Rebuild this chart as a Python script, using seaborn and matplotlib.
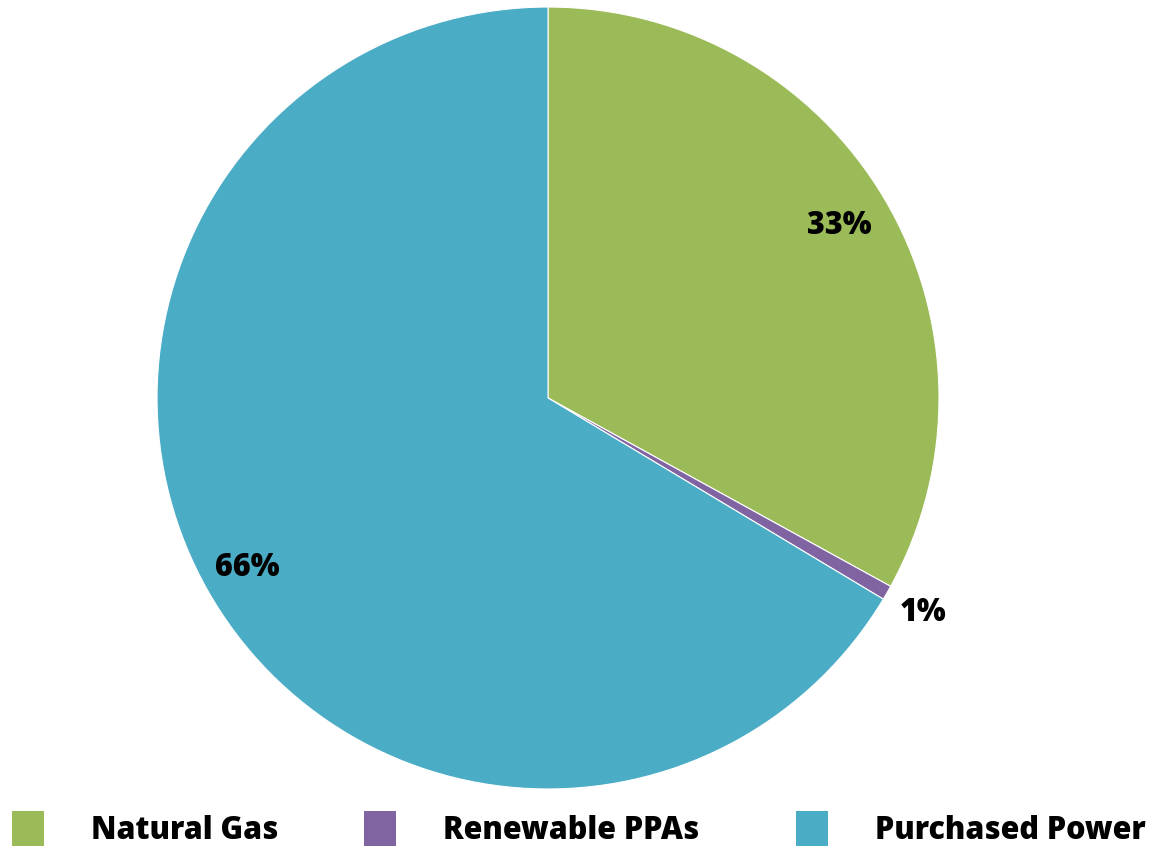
import matplotlib
matplotlib.use("Agg")
import matplotlib.pyplot as plt
from matplotlib.patches import Patch
import seaborn as sns
import numpy as np

categories = ["Natural Gas", "Renewable PPAs", "Purchased Power"]
values = [33.0, 0.6, 66.4]
labels = ["33%", "1%", "66%"]
colors = ["#9BBB59", "#8064A2", "#4BACC6"]

sns.set_style("white")
plt.rcParams['font.family'] = ['Open Sans', 'DejaVu Sans']

fig = plt.figure(figsize=(11.53, 8.46), dpi=100)
ax = fig.add_axes([0.1362, 0.0674, 0.6782, 0.9243])
wedges, _ = ax.pie(values, colors=colors, startangle=90, counterclock=False,
                   wedgeprops=dict(edgecolor="white", linewidth=0.8))
ax.set_xlim(-1, 1)
ax.set_ylim(-1, 1)
ax.set_aspect("equal")
ax.axis("off")

dists = [0.865, 1.105, 0.885]
for w, lab, d in zip(wedges, labels, dists):
    ang = np.deg2rad((w.theta1 + w.theta2) / 2)
    ax.text(d * np.cos(ang), d * np.sin(ang), lab, ha="center", va="center",
            fontsize=22, fontweight=800, color="black")

# legend entries: one per category, anchored at the square's left edge
leg_x = [12 / 1153, 364 / 1153, 796 / 1153]
for cat, col, lx in zip(categories, colors, leg_x):
    leg = fig.legend([Patch(facecolor=col, edgecolor="none")], [cat],
                     loc="center left", bbox_to_anchor=(lx, 1 - 829 / 846),
                     frameon=False, prop=dict(weight=800, size=22),
                     labelcolor="black",
                     handlelength=1.05, handleheight=1.45, handletextpad=1.55,
                     borderaxespad=0.0, borderpad=0.0)

fig.savefig("out.png", dpi=100)
